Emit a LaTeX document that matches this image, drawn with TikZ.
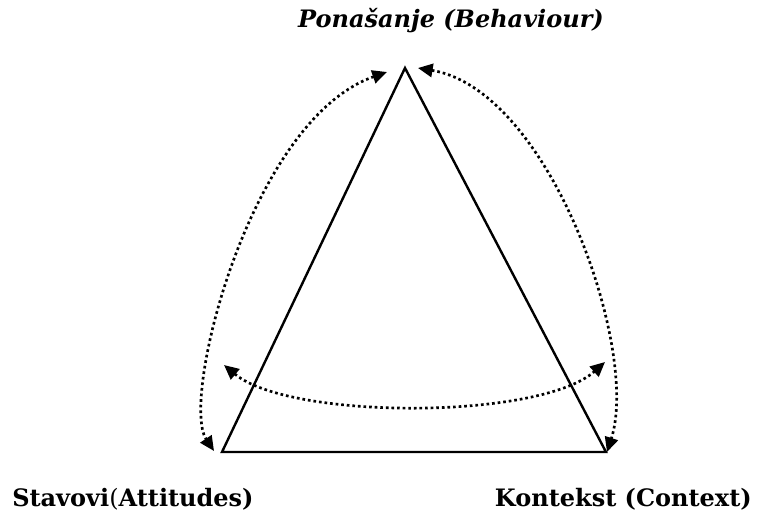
\documentclass[tikz,border=0pt]{standalone}
\usepackage{fontspec}
\setmainfont{DejaVu Serif}
\usetikzlibrary{arrows.meta, positioning}

\begin{document}
\begin{tikzpicture}[
    x=0.75pt, y=-0.75pt,
    side/.style={line width=1.8pt},
    link/.style={{Triangle[length=11pt,width=10pt]}-{Triangle[length=11pt,width=10pt]},
                 line width=2pt, dash pattern=on 2pt off 2.2pt},
    cornerlabel/.style={font=\bfseries\fontsize{18}{20}\selectfont, inner sep=0pt, anchor=base}
  ]
  \useasboundingbox (0,0) rectangle (758,512);

  % triangle corners
  \coordinate (top) at (405,68);
  \coordinate (left) at (222,452);
  \coordinate (right) at (606,452);

  % arrow ends
  \coordinate (topL) at (387,72);
  \coordinate (topR) at (418,68);
  \coordinate (leftB) at (214,451);
  \coordinate (rightB) at (607,452);
  \coordinate (midL) at (224,365);
  \coordinate (midR) at (605,362);

  \draw[side] (top) -- (right) -- (left) -- cycle;

  \draw[link] (topL) .. controls (250,120) and (180,400) .. (leftB);
  \draw[link] (topR) .. controls (550,90) and (640,350) .. (rightB);
  \draw[link] (midL) .. controls (290,420) and (540,420) .. (midR);

  \node[cornerlabel, font=\bfseries\itshape\fontsize{18}{20}\selectfont] (behaviour) at (451,27) {Ponašanje (Behaviour)};
  \node[cornerlabel, anchor=base west] (attitudes) at (12,506) {Stavovi\textmd{(}Attitudes)};
  \node[cornerlabel, anchor=base east] (context) at (752,506) {Kontekst (Context)};

\end{tikzpicture}
\end{document}
